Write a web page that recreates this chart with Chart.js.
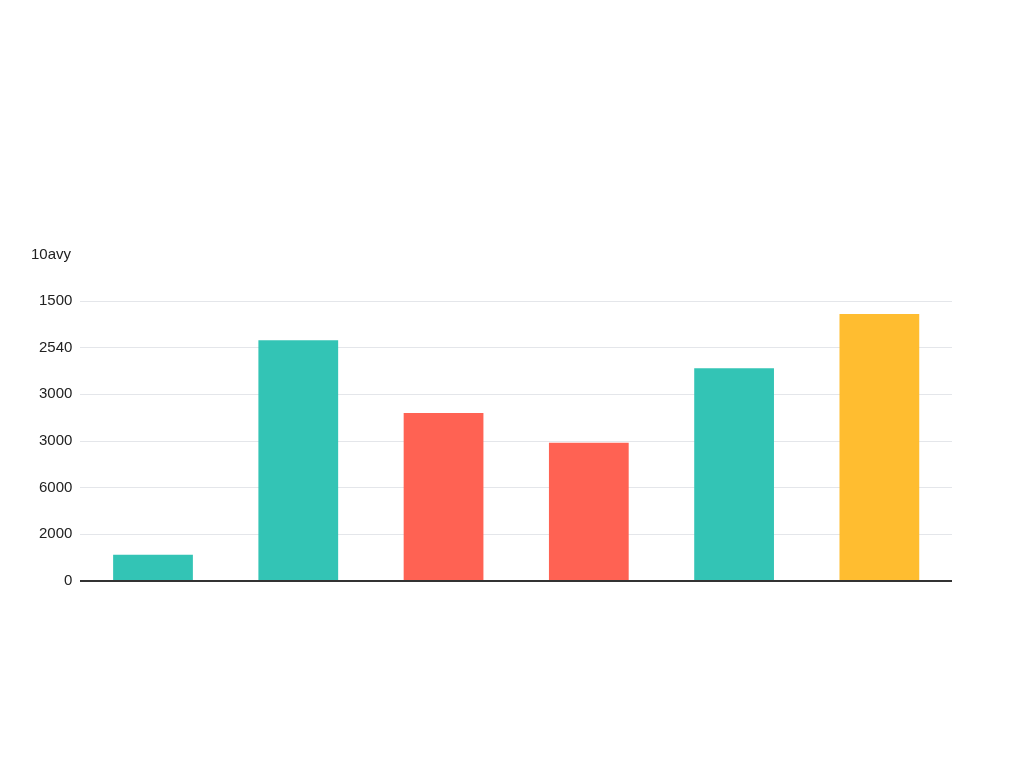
<!DOCTYPE html>
<html lang="en">
<head>
    <meta charset="UTF-8">
    <title>Bar chart</title>
    <script src="https://cdn.jsdelivr.net/npm/chart.js"></script>
    <style>
        html, body {
            margin: 0;
            padding: 0;
            background: #ffffff;
        }
        #chart-container {
            position: relative;
            width: 1024px;
            height: 768px;
        }
    </style>
</head>
<body>
    <div id="chart-container">
        <canvas id="bar-chart"></canvas>
    </div>

    <script>
        // data (values in grid steps)
        const categories = ['', '', '', '', '', ''];
        const values = [0.56, 5.16, 3.6, 2.96, 4.56, 5.72];
        const barColors = ['#33c4b5', '#33c4b5', '#ff6253', '#ff6253', '#33c4b5', '#ffbd30'];
        // tick labels from bottom to top, as printed
        const tickLabels = ['0', '2000', '6000', '3000', '3000', '2540', '1500'];
        const titleText = '10avy';

        const config = {
            type: 'bar',
            data: {
                labels: categories,
                datasets: [{
                    data: values,
                    backgroundColor: barColors,
                    borderWidth: 0,
                    barPercentage: 0.9,
                    categoryPercentage: 0.61
                }]
            },
            options: {
                responsive: true,
                maintainAspectRatio: false,
                animation: false,
                layout: {
                    padding: { top: 231, left: 31, right: 72, bottom: 179 }
                },
                plugins: {
                    legend: { display: false },
                    tooltip: { enabled: false },
                    title: {
                        display: true,
                        text: titleText,
                        align: 'start',
                        color: '#222222',
                        font: { family: 'Liberation Sans', size: 15, weight: 'normal' },
                        padding: { top: 15, bottom: 37 }
                    }
                },
                scales: {
                    x: {
                        grid: { display: false },
                        border: { display: false },
                        ticks: { display: false }
                    },
                    y: {
                        min: 0,
                        max: 6,
                        border: { display: false },
                        grid: {
                            drawTicks: false,
                            color: (ctx) => ctx.index === 0 ? '#333333' : '#e4e6ea',
                            lineWidth: (ctx) => ctx.index === 0 ? 2 : 1
                        },
                        ticks: {
                            stepSize: 1,
                            padding: 8,
                            color: '#222222',
                            font: { family: 'Liberation Sans', size: 15 },
                            callback: (value) => tickLabels[value]
                        }
                    }
                }
            }
        };

        const ctx = document.getElementById('bar-chart').getContext('2d');
        const barChart = new Chart(ctx, config);
    </script>
</body>
</html>
